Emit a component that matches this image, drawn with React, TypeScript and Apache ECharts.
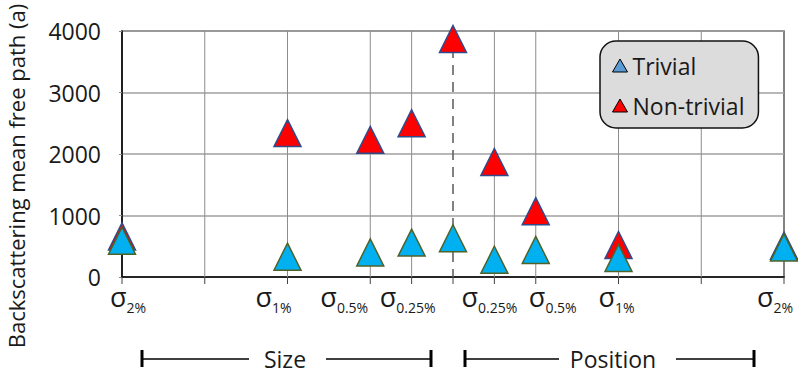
import React, { useEffect, useRef } from 'react';
import * as echarts from 'echarts';

// ---- data ----
const xPositions = [-4, -2, -1, -0.5, 0, 0.5, 1, 2, 4];
const trivialValues = [590, 330, 400, 560, 630, 280, 440, 310, 480];
const nonTrivialValues = [660, 2340, 2230, 2500, 3870, 1870, 1070, 520, 510];
const gridPositions = [-4, -3, -2, -1, -0.5, 0, 0.5, 1, 2, 3, 4];
const tickLabelValues = [-4, -2, -1, -0.5, 0.5, 1, 2, 4];
const tickLabelSubs = ['2%', '1%', '0.5%', '0.25%', '0.25%', '0.5%', '1%', '2%'];
const seriesNames = ['Trivial', 'Non-trivial'];
const yTitle = 'Backscattering mean free path (a)';
const groupNames = ['Size', 'Position'];

// ---- style ----
const FONT = 'Open Sans';
const TEXT = '#1a1a1a';
const labelShift = [6, -14, -26, -4, -5, 17, -2, -9];

export default function App() {
  const ref = useRef<HTMLDivElement>(null);
  useEffect(() => {
    if (!ref.current) return;
    const chart = echarts.init(ref.current, undefined, { renderer: 'svg' });

    const rich: Record<string, any> = {};
    labelShift.forEach((s, i) => {
      rich['s' + i] = {
        fontFamily: FONT, fontSize: 27, color: TEXT,
        padding: [0, 0, 0, s > 0 ? 2 * s : 0],
      };
      rich['b' + i] = {
        fontFamily: FONT, fontSize: 14, color: TEXT,
        padding: [22, s < 0 ? -2 * s : 0, 0, 0],
      };
    });

    const option: any = {
      animation: false,
      grid: {
        left: 122, right: 14, top: 31, bottom: 98,
        containLabel: false, outerBoundsMode: 'none',
        show: true, borderColor: '#5a5a5a', borderWidth: 1.5,
      },
      legend: {
        orient: 'vertical', left: 600, top: 41,
        data: [
          { name: seriesNames[0], itemStyle: { color: '#5b9bd5', borderColor: '#000', borderWidth: 1 } },
          { name: seriesNames[1], itemStyle: { color: '#ff0000', borderColor: '#000', borderWidth: 1 } },
        ],
        icon: 'triangle', itemWidth: 15, itemHeight: 13, itemGap: 17,
        backgroundColor: '#dcdcdc', borderColor: '#111', borderWidth: 1.5, borderRadius: 16,
        padding: [13, 14, 11, 12],
        textStyle: { fontFamily: FONT, fontSize: 23, color: TEXT },
      },
      xAxis: {
        type: 'value', min: -4, max: 4, interval: 0.5,
        axisLine: { show: true, onZero: false, lineStyle: { color: '#000', width: 1.5 } },
        axisTick: { show: false },
        splitLine: { show: false },
        axisLabel: {
          margin: 1,
          formatter: (v: number) => {
            const i = tickLabelValues.indexOf(v);
            if (i < 0) return '';
            return `{s${i}|σ}{b${i}|${tickLabelSubs[i]}}`;
          },
          rich,
        },
      },
      yAxis: {
        type: 'value', min: 0, max: 4000, interval: 1000,
        name: yTitle, nameLocation: 'middle', nameGap: 95,
        nameTextStyle: { fontFamily: FONT, fontSize: 22, color: TEXT, padding: [0, 44, 0, 0] },
        axisLine: { show: true, onZero: false, lineStyle: { color: '#000', width: 1.5 } },
        axisTick: { show: true, length: 3, lineStyle: { color: '#888' } },
        splitLine: { show: true, lineStyle: { color: '#a0a0a0', width: 1.5 } },
        axisLabel: {
          margin: 21, fontFamily: FONT, fontSize: 23, color: TEXT,
          formatter: (v: number) => String(v),
        },
      },
      series: [
        {
          type: 'custom',
          silent: true,
          z: 1,
          clip: false,
          data: gridPositions.map((v) => [v, 0]),
          renderItem: (params: any, api: any) => {
            const x = api.value(0);
            const top = api.coord([x, 4000]);
            const bot = api.coord([x, 0]);
            const children: any[] = [];
            const edge = x === -4 || x === 4;
            if (!edge) {
              children.push({
                type: 'line',
                shape: { x1: top[0], y1: top[1], x2: bot[0], y2: bot[1] },
                style: {
                  stroke: x === 0 ? '#595959' : '#8c8c8c',
                  lineWidth: x === 0 ? 1.5 : 1,
                  lineDash: x === 0 ? [10, 7] : null,
                },
              });
            }
            children.push({
              type: 'line',
              shape: { x1: bot[0], y1: bot[1], x2: bot[0], y2: bot[1] + 7 },
              style: { stroke: '#444', lineWidth: 1 },
            });
            return { type: 'group', children };
          },
        },
        {
          name: seriesNames[1],
          type: 'scatter',
          z: 3,
          symbol: 'triangle',
          symbolSize: 27,
          itemStyle: { color: '#ff0000', borderColor: '#2f4b8c', borderWidth: 1.5, opacity: 1 },
          data: xPositions.map((x, i) => [x, nonTrivialValues[i]]),
        },
        {
          name: seriesNames[0],
          type: 'scatter',
          z: 4,
          symbol: 'triangle',
          symbolSize: 27,
          itemStyle: { color: '#00b0f0', borderColor: '#4f6228', borderWidth: 1.5, opacity: 1 },
          data: xPositions.map((x, i) => [x, trivialValues[i]]),
        },
      ],
      graphic: [
        { type: 'line', shape: { x1: 142, y1: 359, x2: 249, y2: 359 }, style: { stroke: '#000', lineWidth: 1.5 } },
        { type: 'line', shape: { x1: 142, y1: 350, x2: 142, y2: 367 }, style: { stroke: '#000', lineWidth: 3 } },
        { type: 'text', x: 285, y: 359, style: { text: groupNames[0], font: `23px "${FONT}"`, fill: TEXT, align: 'center', verticalAlign: 'middle' } },
        { type: 'line', shape: { x1: 326, y1: 359, x2: 431, y2: 359 }, style: { stroke: '#000', lineWidth: 1.5 } },
        { type: 'line', shape: { x1: 431, y1: 350, x2: 431, y2: 367 }, style: { stroke: '#000', lineWidth: 3 } },
        { type: 'line', shape: { x1: 465, y1: 359, x2: 559, y2: 359 }, style: { stroke: '#000', lineWidth: 1.5 } },
        { type: 'line', shape: { x1: 465, y1: 350, x2: 465, y2: 367 }, style: { stroke: '#000', lineWidth: 3 } },
        { type: 'text', x: 613, y: 359, style: { text: groupNames[1], font: `23px "${FONT}"`, fill: TEXT, align: 'center', verticalAlign: 'middle' } },
        { type: 'line', shape: { x1: 676, y1: 359, x2: 754, y2: 359 }, style: { stroke: '#000', lineWidth: 1.5 } },
        { type: 'line', shape: { x1: 754, y1: 350, x2: 754, y2: 367 }, style: { stroke: '#000', lineWidth: 3 } },
      ],
    };
    chart.setOption(option);
    return () => chart.dispose();
  }, []);
  return <div ref={ref} style={{ width: 798, height: 375, position: 'absolute', left: 0, top: 0 }} />;
}
